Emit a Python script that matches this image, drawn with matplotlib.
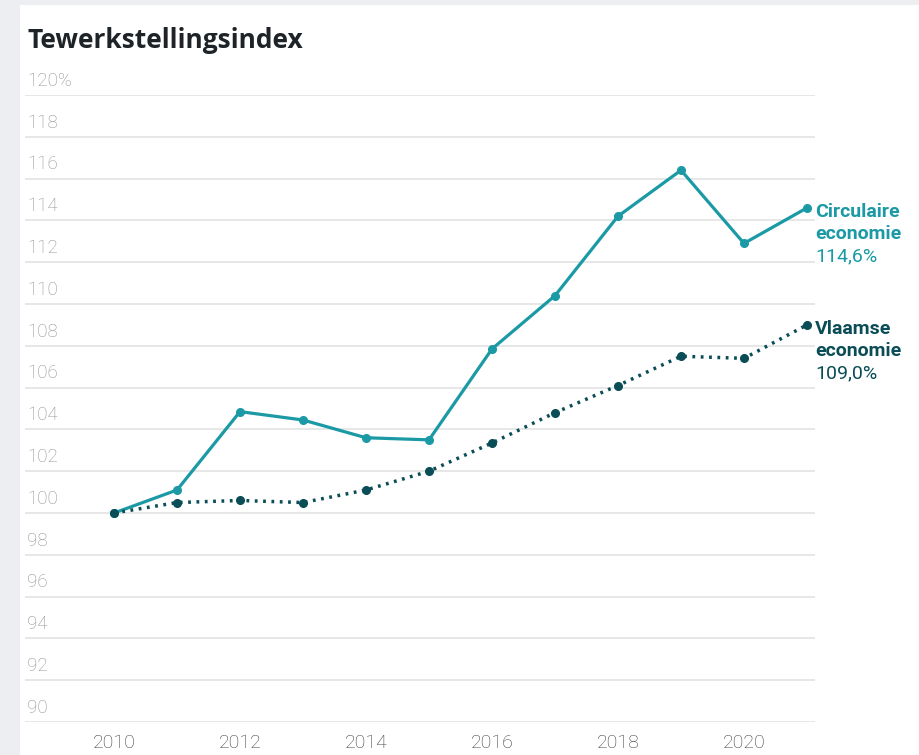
import matplotlib.pyplot as plt
import matplotlib.transforms as mtransforms
from matplotlib.patches import Rectangle

# Data
years = [2010, 2011, 2012, 2013, 2014, 2015, 2016, 2017, 2018, 2019, 2020, 2021]
circulair = [100.0, 101.1, 104.85, 104.45, 103.6, 103.5, 107.85, 110.4, 114.2, 116.4, 112.9, 114.6]
vlaams = [100.0, 100.5, 100.6, 100.5, 101.1, 102.0, 103.35, 104.8, 106.1, 107.5, 107.4, 109.0]
y_ticks = [90, 92, 94, 96, 98, 100, 102, 104, 106, 108, 110, 112, 114, 116, 118, 120]
x_ticks = [2010, 2012, 2014, 2016, 2018, 2020]

TEAL = '#1b9aa6'
DARK = '#0b4d57'

plt.rcParams['font.family'] = ['Roboto', 'DejaVu Sans']

fig = plt.figure(figsize=(9.19, 7.55), dpi=100)
fig.patch.set_facecolor('#eceef2')
# white card behind everything
fig.patches.append(Rectangle((20 / 919, 0), 1, 1 - 5 / 755, transform=fig.transFigure,
                             facecolor='white', edgecolor='none', zorder=-10))

ax = fig.add_axes([25 / 919, 33 / 755, 790 / 919, 627 / 755])
ax.set_facecolor('none')
ax.set_xlim(2008.587, 2021.127)
ax.set_ylim(90, 120)
for s in ax.spines.values():
    s.set_visible(False)
ax.set_yticks([])
ax.set_xticks(x_ticks)
ax.set_xticklabels([str(x) for x in x_ticks], fontsize=14, color='#3f3f3f', fontweight='light')
ax.tick_params(axis='x', length=0, pad=9)

for v in y_ticks:
    ax.axhline(v, color='#e3e3e3', lw=1.2, zorder=1)
    lab = f'{v}%' if v == 120 else str(v)
    ax.text(2008.62, v + 0.68, lab, fontsize=13.5, color='#939393', fontweight='light',
            ha='left', va='center')

ax.plot(years, circulair, color=TEAL, lw=2.3, marker='o', markersize=5.5, zorder=3)
ax.plot(years, vlaams, color=DARK, lw=2.5, linestyle=(0, (0.8, 1.6)), marker='o',
        markersize=5.5, zorder=3)

# end labels, one line at a time
tr = mtransforms.blended_transform_factory(fig.transFigure, ax.transData)
lx = 815 / 919
for name, val, col in [(('Circulaire', 'economie'), circulair[-1], TEAL),
                       (('Vlaamse', 'economie'), vlaams[-1], DARK)]:
    ax.text(lx, val - 0.19, name[0], transform=tr, fontsize=14, fontweight='bold',
            color=col, ha='left', va='center')
    ax.text(lx, val - 1.24, name[1], transform=tr, fontsize=14, fontweight='bold',
            color=col, ha='left', va='center')
    ax.text(lx, val - 2.34, f'{val:.1f}%'.replace('.', ','), transform=tr, fontsize=14,
            color=col, ha='left', va='center')

fig.text(27 / 919, 1 - 40 / 755, 'Tewerkstellingsindex', fontsize=19, fontweight='bold',
         color='#1e2328', ha='left', va='center', family=['Open Sans', 'DejaVu Sans'])

fig.savefig('out.png', dpi=100, facecolor=fig.get_facecolor())
